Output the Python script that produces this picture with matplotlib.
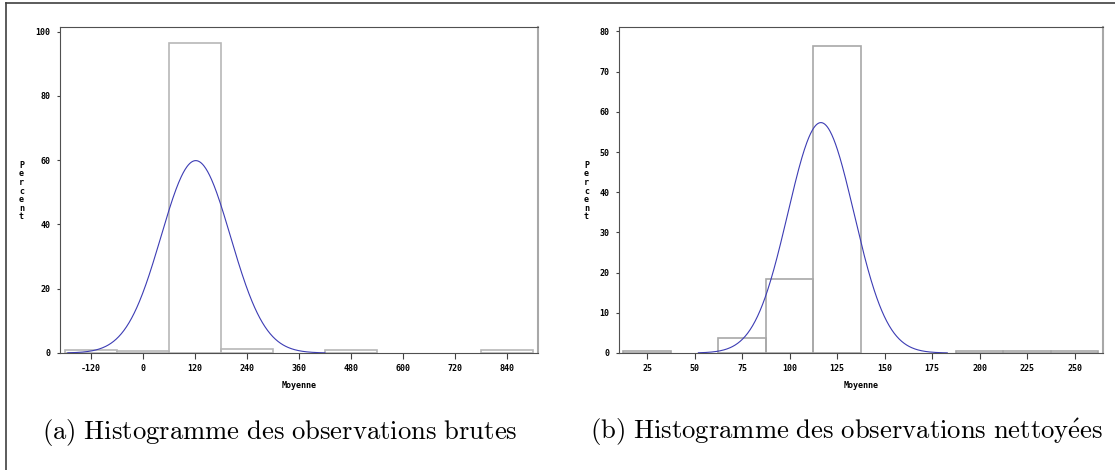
import numpy as np
import matplotlib
matplotlib.use("Agg")
import matplotlib.pyplot as plt
from matplotlib.lines import Line2D

plt.rcParams["mathtext.fontset"] = "cm"

# raw observations: bin midpoints (width 120) and percent per bin
raw_mid = [-120, 0, 120, 240, 480, 840]
raw_pct = [0.8, 0.5, 96.3, 1.2, 0.8, 0.8]
raw_width = 120
raw_mu, raw_sd = 122, 80
raw_curve_range = (-173, 420)

# cleaned observations: bin midpoints (width 25) and percent per bin
clean_mid = [25, 75, 100, 125, 200, 225, 250]
clean_pct = [0.4, 3.7, 18.5, 76.3, 0.4, 0.4, 0.4]
clean_width = 25
clean_mu, clean_sd = 116.5, 17.4
clean_curve_range = (52, 183)

raw_xticks = [-120, 0, 120, 240, 360, 480, 600, 720, 840]
raw_yticks = [0, 20, 40, 60, 80, 100]
clean_xticks = [25, 50, 75, 100, 125, 150, 175, 200, 225, 250]
clean_yticks = [0, 10, 20, 30, 40, 50, 60, 70, 80]

captions = ["(a) Histogramme des observations brutes",
            "(b) Histogramme des observations nettoyées"]

W, H = 1115, 470
fig = plt.figure(figsize=(W / 100, H / 100), dpi=100)

tick_font = dict(family="DejaVu Sans Mono", weight="bold", size=6)


def panel(rect, mid, pct, width, mu, sd, crange, xticks, yticks, xlim, ylim, edge):
    ax = fig.add_axes(rect)
    ax.bar(mid, pct, width=width, fill=False, edgecolor=edge, linewidth=1.2)
    xs = np.linspace(crange[0], crange[1], 400)
    ys = 100 * width * np.exp(-0.5 * ((xs - mu) / sd) ** 2) / (sd * np.sqrt(2 * np.pi))
    ax.plot(xs, ys, color="#3c3cb4", linewidth=0.8)
    ax.set_xlim(*xlim)
    ax.set_ylim(*ylim)
    ax.set_xticks(xticks)
    ax.set_yticks(yticks)
    ax.set_xticklabels([str(t) for t in xticks], **tick_font)
    ax.set_yticklabels([str(t) for t in yticks], **tick_font)
    ax.tick_params(axis="x", length=4, width=0.8, pad=4, color="#404040")
    ax.tick_params(axis="y", length=2.4, width=0.8, pad=4.5, color="#404040")
    for s in ["left", "bottom", "top"]:
        ax.spines[s].set_color("#505050")
        ax.spines[s].set_linewidth(0.8)
    ax.spines["right"].set_color("#a8a8a8")
    ax.spines["right"].set_linewidth(1.5)
    ax.set_xlabel("Moyenne", labelpad=6, **tick_font)
    ax.set_ylabel("\n".join("Percent"), rotation=0, ha="center", va="center",
                  linespacing=0.95, **tick_font)
    return ax


ax1 = panel([60 / W, 1 - 353 / H, 477.5 / W, 326 / H],
            raw_mid, raw_pct, raw_width, raw_mu, raw_sd, raw_curve_range,
            raw_xticks, raw_yticks, (-191, 910), (0, 101.4), "#b8b8b8")
ax1.yaxis.set_label_coords((21.5 - 60) / 477.5, (353 - 191) / 326)

ax2 = panel([619.3 / W, 1 - 353 / H, 483.2 / W, 326 / H],
            clean_mid, clean_pct, clean_width, clean_mu, clean_sd, clean_curve_range,
            clean_xticks, clean_yticks, (10.4, 264.7), (0, 81.1), "#a8a8a8")
ax2.yaxis.set_label_coords((586.4 - 619.3) / 483.2, (353 - 191) / 326)

# outer frame (left and top edges only)
fig.add_artist(Line2D([6 / W, 6 / W], [0, 1 - 3.3 / H], transform=fig.transFigure,
                      color="#404040", linewidth=1.2))
fig.add_artist(Line2D([6 / W, 1], [1 - 3.3 / H, 1 - 3.3 / H], transform=fig.transFigure,
                      color="#404040", linewidth=1.2))


def as_tex(s):
    # Computer Modern roman through mathtext, keeping the accent
    s = s.replace(" ", r"\ ").replace("é", r"\acute{e}")
    return r"$\mathrm{" + s + "}$"


fig.text(280 / W, 1 - 432 / H, as_tex(captions[0]), ha="center", va="center", size=19.2)
fig.text(847 / W, 1 - 432 / H, as_tex(captions[1]), ha="center", va="center", size=19.2)

fig.savefig("out.png", dpi=100)
